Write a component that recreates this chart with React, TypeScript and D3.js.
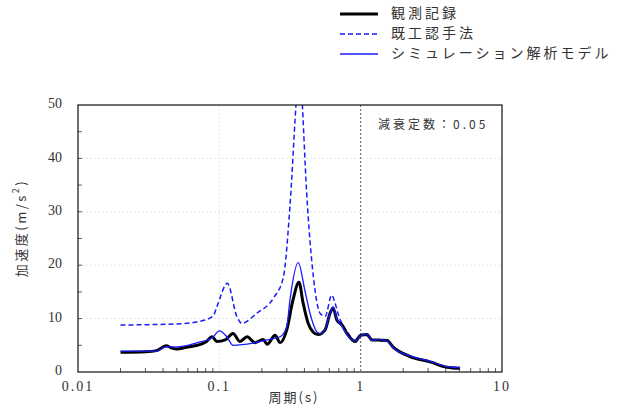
import React from "react";
import * as d3 from "d3";

const W = 618, H = 408;
const M = { left: 78, right: 502, top: 105, bottom: 372 };

// 観測記録
const obsT = [0.02, 0.03, 0.036, 0.042, 0.046, 0.05, 0.06, 0.07, 0.08, 0.089, 0.096, 0.11, 0.125, 0.14, 0.157, 0.179, 0.204, 0.218, 0.248, 0.269, 0.3, 0.332, 0.366, 0.391, 0.424, 0.46, 0.5, 0.56, 0.607, 0.638, 0.68, 0.738, 0.8, 0.912, 1.0, 1.11, 1.2, 1.33, 1.54, 1.69, 2.24, 3.1, 4.08, 5.05];
const obsV = [3.7, 3.8, 4.0, 4.9, 4.5, 4.3, 4.7, 5.0, 5.6, 6.6, 5.7, 6.0, 7.2, 5.7, 6.6, 5.5, 6.1, 5.2, 6.9, 5.5, 7.9, 13.5, 16.8, 13.0, 9.2, 7.5, 7.0, 7.9, 11.0, 12.0, 9.7, 8.8, 7.2, 5.7, 6.9, 7.0, 6.0, 6.0, 5.9, 4.7, 2.9, 1.9, 0.9, 0.7];

// 既工認手法
const convT = [0.02, 0.05, 0.07, 0.09, 0.096, 0.114, 0.133, 0.144, 0.184, 0.241, 0.284, 0.316, 0.353, 0.37, 0.383, 0.414, 0.463, 0.516, 0.56, 0.624, 0.659, 0.7, 0.8, 0.912, 1.0, 1.11, 1.2, 1.33, 1.54, 1.69, 2.24, 3.1, 4.08, 5.05];
const convV = [8.8, 9.0, 9.4, 10.4, 12.2, 16.6, 10.4, 9.1, 11.0, 13.8, 17.8, 31.0, 52.0, 58.0, 52.0, 34.0, 17.8, 11.0, 10.4, 14.4, 12.9, 10.5, 7.6, 5.9, 6.8, 7.0, 6.1, 5.9, 5.8, 4.8, 3.0, 2.0, 1.0, 0.8];

// シミュレーション解析モデル
const simT = [0.02, 0.036, 0.042, 0.05, 0.07, 0.089, 0.1, 0.113, 0.125, 0.173, 0.218, 0.269, 0.3, 0.316, 0.362, 0.402, 0.438, 0.46, 0.49, 0.52, 0.56, 0.607, 0.638, 0.68, 0.738, 0.8, 0.912, 1.0, 1.11, 1.2, 1.33, 1.54, 1.69, 2.24, 3.1, 4.08, 5.05];
const simV = [3.9, 3.9, 4.7, 4.7, 5.5, 6.4, 7.7, 6.6, 5.0, 5.4, 6.0, 6.6, 8.5, 13.5, 20.5, 15.4, 11.0, 9.1, 7.5, 7.2, 8.0, 11.0, 12.2, 9.9, 8.6, 7.0, 5.8, 6.8, 7.1, 5.9, 6.1, 5.8, 4.6, 3.0, 2.0, 1.0, 0.8];

const xTicks = [0.01, 0.1, 1, 10];
const xTickLabels = ["0.01", "0.1", "1", "10"];
const yTicks = [0, 10, 20, 30, 40, 50];

const legendLabels = ["観測記録", "既工認手法", "シミュレーション解析モデル"];

export default function App() {
  const x = d3.scaleLog().domain([0.01, 10]).range([M.left, M.right]);
  const y = d3.scaleLinear().domain([0, 50]).range([M.bottom, M.top]);
  const line = d3.line<[number, number]>().x(d => x(d[0])).y(d => y(d[1])).curve(d3.curveMonotoneX);
  const zip = (a: number[], b: number[]) => a.map((t, i) => [t, b[i]] as [number, number]);

  const minor: number[] = [];
  for (const dec of [0.01, 0.1, 1]) for (let k = 2; k <= 9; k++) minor.push(dec * k);
  const yMinor = d3.range(5, 50, 5);

  const serif = "'Liberation Serif', 'DejaVu Serif', serif";
  const jp = "'Noto Sans CJK JP', sans-serif";
  const textColor = "#333";
  const blue = "#1a1aff";

  return (
    <svg width={W} height={H} style={{ position: "absolute", left: 0, top: 0, background: "#fff" }}>
      <defs>
        <clipPath id="plot">
          <rect x={M.left} y={M.top} width={M.right - M.left} height={M.bottom - M.top} />
        </clipPath>
      </defs>
      {/* grid */}
      {yTicks.slice(1, -1).map(v => (
        <line key={"g" + v} x1={M.left} x2={M.right} y1={y(v)} y2={y(v)} stroke="#ddd" strokeWidth={0.8} strokeDasharray="2,2" />
      ))}
      <line x1={x(0.1)} x2={x(0.1)} y1={M.top} y2={M.bottom} stroke="#ddd" strokeWidth={0.8} strokeDasharray="2,2" />
      <line x1={x(1)} x2={x(1)} y1={M.top} y2={M.bottom} stroke="#333" strokeWidth={0.8} strokeDasharray="2,2" />
      {/* ticks */}
      {minor.map(t => (
        <line key={"m" + t} x1={x(t)} x2={x(t)} y1={M.bottom} y2={M.bottom - 4} stroke="#333" strokeWidth={0.8} />
      ))}
      {yMinor.map(v => (
        <line key={"ym" + v} x1={M.left} x2={M.left + 4} y1={y(v)} y2={y(v)} stroke="#333" strokeWidth={0.8} />
      ))}
      {/* data */}
      <g clipPath="url(#plot)">
        <path d={line(zip(convT, convV)) || ""} fill="none" stroke={blue} strokeWidth={1.5} strokeDasharray="5,3" />
        <path d={line(zip(obsT, obsV)) || ""} fill="none" stroke="#000" strokeWidth={3} strokeLinejoin="round" />
        <path d={line(zip(simT, simV)) || ""} fill="none" stroke={blue} strokeWidth={1.3} />
      </g>
      {/* frame */}
      <rect x={M.left} y={M.top} width={M.right - M.left} height={M.bottom - M.top} fill="none" stroke="#222" strokeWidth={1.3} />
      {/* tick labels */}
      {xTicks.map((t, i) => (
        <text key={"xl" + t} x={x(t)} y={388} fontFamily={serif} fontSize={14} fill={textColor} textAnchor="middle" dominantBaseline="middle" letterSpacing={2}>{xTickLabels[i]}</text>
      ))}
      {yTicks.map(v => (
        <text key={"yl" + v} x={62} y={y(v)} fontFamily={serif} fontSize={14} fill={textColor} textAnchor="end" dominantBaseline="middle">{v}</text>
      ))}
      <text x={294} y={398} fontFamily={jp} fontSize={13} fill={textColor} textAnchor="middle" dominantBaseline="middle" letterSpacing={2}>周期(s)</text>
      <text transform="translate(22,228) rotate(-90)" fontFamily={jp} fontSize={13} fill={textColor} textAnchor="middle" dominantBaseline="middle" letterSpacing={2.5}>
        加速度(m/s<tspan dy={-5} fontSize={9}>2</tspan><tspan dy={5}>)</tspan>
      </text>
      <text x={378} y={126} fontFamily={jp} fontSize={12} fill={textColor} dominantBaseline="middle" letterSpacing={3}>減衰定数：0.05</text>
      {/* legend */}
      {legendLabels.map((lab, i) => {
        const ly = 14 + i * 20;
        return (
          <g key={lab}>
            <line x1={340} x2={378} y1={ly} y2={ly} stroke={i === 0 ? "#000" : blue} strokeWidth={i === 0 ? 3 : 1.5} strokeDasharray={i === 1 ? "5,3" : undefined} />
            <text x={391} y={ly} fontFamily={jp} fontSize={14} fill={textColor} dominantBaseline="middle" letterSpacing={3}>{lab}</text>
          </g>
        );
      })}
    </svg>
  );
}
